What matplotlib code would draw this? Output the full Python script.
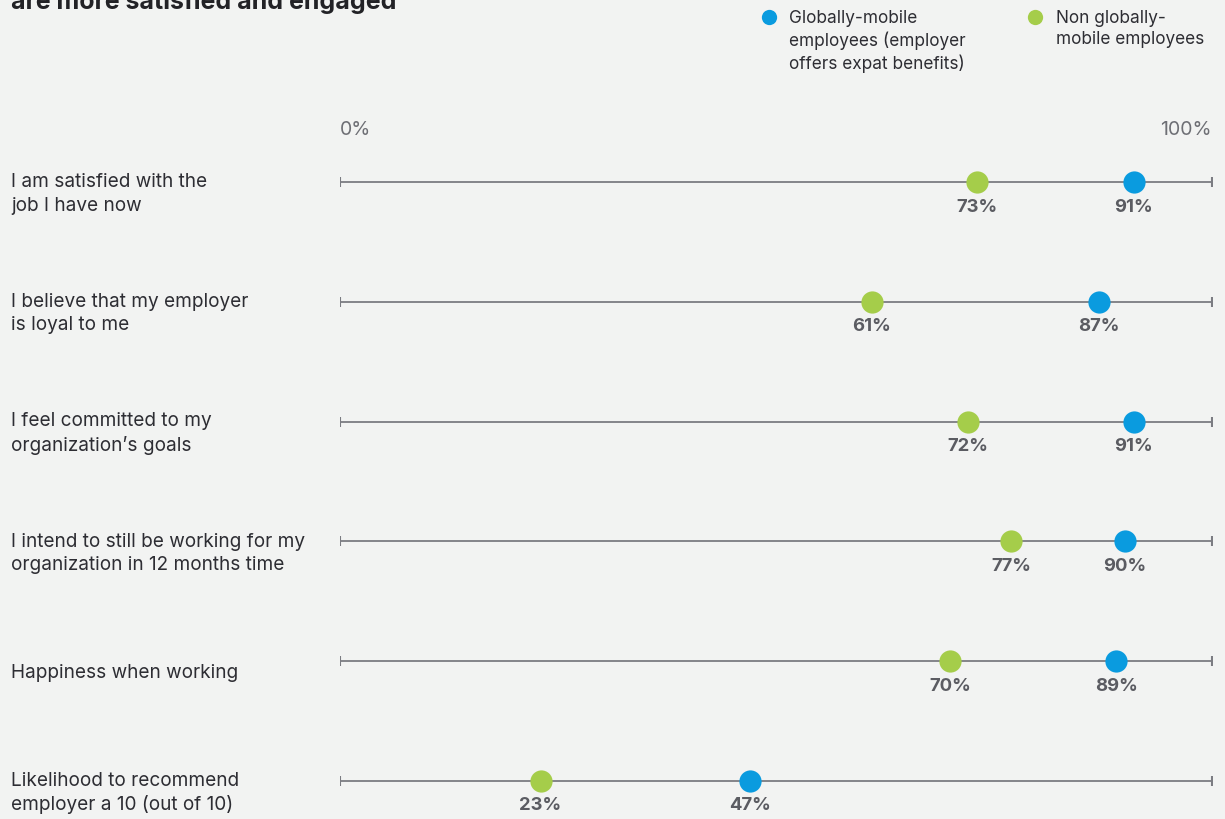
import matplotlib.pyplot as plt

plt.rcParams['font.family'] = ['Inter', 'DejaVu Sans']

# data
questions = [
    "I am satisfied with the\njob I have now",
    "I believe that my employer\nis loyal to me",
    "I feel committed to my\norganization\u2019s goals",
    "I intend to still be working for my\norganization in 12 months time",
    "Happiness when working",
    "Likelihood to recommend\nemployer a 10 (out of 10)",
]
mobile = [91, 87, 91, 90, 89, 47]
non_mobile = [73, 61, 72, 77, 70, 23]

series_names = ["Globally-mobile\nemployees (employer\noffers expat benefits)",
                "Non globally-\nmobile employees"]

BG = '#f2f3f2'
BLUE = '#0a9bdf'
GREEN = '#a5cd4a'
LINE = '#7b7c82'
TXT = '#2d2d33'
PCT = '#5b5c62'

W, H = 1225, 819
fig = plt.figure(figsize=(W / 100, H / 100), dpi=100)
fig.patch.set_facecolor(BG)

# axes spans the whole figure height, x from 0% at px 340 to 100% at px 1212
ax = fig.add_axes([340 / W, 0, 872 / W, 1])
ax.set_facecolor(BG)
row0, step = 182, 119.8
ax.set_ylim((H - row0) / step, -row0 / step)
ax.set_xlim(0, 100)
ax.axis('off')

for i, q in enumerate(questions):
    ax.plot([0, 100], [i, i], color=LINE, lw=1.3, zorder=1, solid_capstyle='butt')
    ax.plot([0, 100], [i, i], ls='none', marker='|', ms=7, mew=1.5, color=LINE, zorder=1)
    ax.plot(non_mobile[i], i, 'o', ms=16, color=GREEN, mec='none', zorder=3)
    ax.plot(mobile[i], i, 'o', ms=16, color=BLUE, mec='none', zorder=3)
    for v in (non_mobile[i], mobile[i]):
        ax.annotate(f"{v}%", (v, i), xytext=(0, -25), textcoords='offset pixels',
                    ha='center', va='center', fontsize=13.3, fontweight='bold', color=PCT)
    # question label at left of figure
    ax.annotate(q, (0, i), xycoords=('figure pixels', 'data'), xytext=(11, -12),
                textcoords='offset pixels', ha='left', va='center', fontsize=13.7,
                color=TXT, linespacing=1.38)

# scale labels
fig.text(340 / W, 1 - 130 / H, "0%", ha='left', va='center', fontsize=14,
         color='#6e6f75')
fig.text(1212 / W, 1 - 130 / H, "100%", ha='right', va='center', fontsize=14,
         color='#6e6f75')

# title (first line sits above the visible area)
fig.text(11 / W, 1 - 9 / H, "are more satisfied and engaged", ha='left', va='baseline',
         fontsize=18, fontweight='bold', color='#222226')

# legend
for (dx, tx), name, col in zip([(769, 789), (1035, 1056)], series_names, [BLUE, GREEN]):
    fig.add_artist(plt.Line2D([dx / W], [1 - 17 / H], marker='o', ms=11, color=col, mec='none'))
    fig.text(tx / W, 1 - 10 / H, name, ha='left', va='top', fontsize=12.4,
             color=TXT, linespacing=1.3)

fig.savefig('out.png', dpi=100, facecolor=BG)
